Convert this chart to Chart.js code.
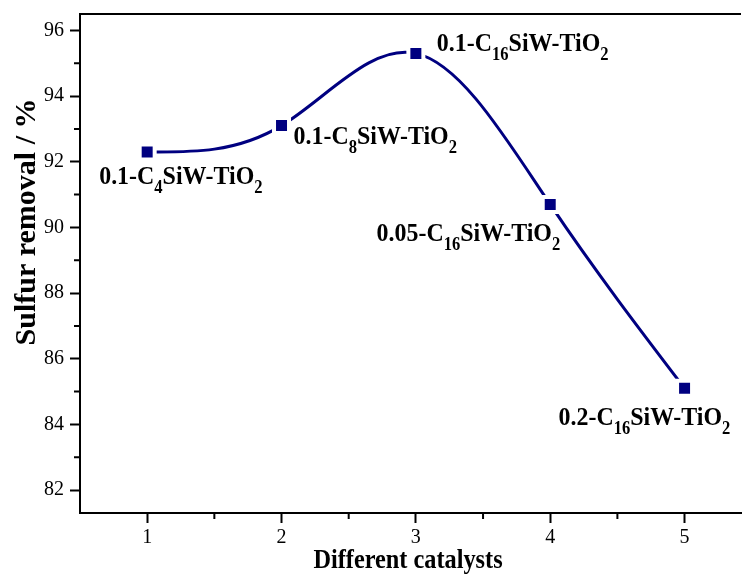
<!DOCTYPE html>
<html>
<head>
<meta charset="utf-8">
<script src="https://cdn.jsdelivr.net/npm/chart.js@4.4.1/dist/chart.umd.min.js"></script>
<style>
  html, body { margin: 0; padding: 0; background: #fff; }
</style>
</head>
<body>
<canvas id="chart" width="744" height="577"></canvas>
<script>
// Data
const catalystX = [1, 2, 3, 4, 5];
const sulfurRemoval = [92.3, 93.1, 95.3, 90.7, 85.1];
// _{...} marks a subscript
const catalystNames = [
  "0.1-C_{4}SiW-TiO_{2}",
  "0.1-C_{8}SiW-TiO_{2}",
  "0.1-C_{16}SiW-TiO_{2}",
  "0.05-C_{16}SiW-TiO_{2}",
  "0.2-C_{16}SiW-TiO_{2}"
];
const yTicks = [82, 84, 86, 88, 90, 92, 94, 96];
const yMinorTicks = [83, 85, 87, 89, 91, 93, 95];
const xTicks = [1, 2, 3, 4, 5];
const xMinorTicks = [1.5, 2.5, 3.5, 4.5];
const xTitle = "Different catalysts";
const yTitle = "Sulfur removal / %";

// where each name sits relative to its point: [dx, dy, align]
const nameOffsets = [
  [-48, 32, "left"],
  [12, 18, "left"],
  [21, -2, "left"],
  [10, 37, "right"],
  [-126, 37, "left"]
];

const NAVY = "#000080";
const SERIF = '"Liberation Serif", "Times New Roman", serif';

// Draw text with subscripts, squeezed horizontally by sx
function drawRich(ctx, text, x, y, align, mainPx, subPx, sx) {
  const parts = text.split(/_\{(.*?)\}/);
  const mainFont = `bold ${mainPx}px ${SERIF}`;
  const subFont = `bold ${subPx}px ${SERIF}`;
  let w = 0;
  parts.forEach((p, i) => {
    ctx.font = i % 2 ? subFont : mainFont;
    w += ctx.measureText(p).width;
  });
  let startX = x;
  if (align === "right") startX = x - w * sx;
  if (align === "center") startX = x - (w * sx) / 2;

  ctx.save();
  ctx.translate(startX, y);
  ctx.scale(sx, 1);
  ctx.fillStyle = "#000";
  ctx.textBaseline = "alphabetic";
  ctx.textAlign = "left";
  let cx = 0;
  parts.forEach((p, i) => {
    const isSub = i % 2 === 1;
    ctx.font = isSub ? subFont : mainFont;
    ctx.fillText(p, cx, isSub ? 9 : 0);
    cx += ctx.measureText(p).width;
  });
  ctx.restore();
}

// Slopes of a natural cubic spline through the given nodes
function naturalSlopes(xs, ys) {
  const n = xs.length;
  const h = [];
  for (let i = 0; i < n - 1; i++) h.push(xs[i + 1] - xs[i]);
  const M = new Array(n).fill(0);
  if (n > 2) {
    const a = [], b = [], c = [], d = [];
    for (let i = 1; i < n - 1; i++) {
      a.push(h[i - 1]);
      b.push(2 * (h[i - 1] + h[i]));
      c.push(h[i]);
      d.push(6 * ((ys[i + 1] - ys[i]) / h[i] - (ys[i] - ys[i - 1]) / h[i - 1]));
    }
    // Thomas algorithm
    for (let i = 1; i < b.length; i++) {
      const m = a[i] / b[i - 1];
      b[i] -= m * c[i - 1];
      d[i] -= m * d[i - 1];
    }
    const sol = new Array(b.length);
    sol[b.length - 1] = d[b.length - 1] / b[b.length - 1];
    for (let i = b.length - 2; i >= 0; i--) sol[i] = (d[i] - c[i] * sol[i + 1]) / b[i];
    sol.forEach((v, i) => { M[i + 1] = v; });
  }
  const slopes = [];
  for (let i = 0; i < n - 1; i++) {
    slopes.push((ys[i + 1] - ys[i]) / h[i] - h[i] * (2 * M[i] + M[i + 1]) / 6);
  }
  const k = n - 2;
  slopes.push((ys[k + 1] - ys[k]) / h[k] + h[k] * (M[k] + 2 * M[k + 1]) / 6);
  return slopes;
}

// Replace Chart.js bezier handles with a natural spline (like the original plot)
const naturalSpline = {
  id: "naturalSpline",
  beforeDatasetsDraw(chart) {
    const meta = chart.getDatasetMeta(0);
    const pts = meta.data;
    meta.dataset.updateControlPoints(chart.chartArea, "x");
    const slopes = naturalSlopes(pts.map(p => p.x), pts.map(p => p.y));
    pts.forEach((p, i) => {
      const hPrev = i > 0 ? (p.x - pts[i - 1].x) / 3 : 0;
      const hNext = i < pts.length - 1 ? (pts[i + 1].x - p.x) / 3 : 0;
      p.cp1x = p.x - hPrev;
      p.cp1y = p.y - slopes[i] * hPrev;
      p.cp2x = p.x + hNext;
      p.cp2y = p.y + slopes[i] * hNext;
    });
  }
};

// Frame top line, minor ticks, axis titles and point names
const annotate = {
  id: "annotate",
  afterDraw(chart) {
    const { ctx, chartArea, scales } = chart;
    ctx.save();
    ctx.strokeStyle = "#000";
    ctx.lineWidth = 2;
    ctx.beginPath();
    ctx.moveTo(chartArea.left - 1, chartArea.top);
    ctx.lineTo(chartArea.right, chartArea.top);
    yMinorTicks.forEach(v => {
      const y = scales.y.getPixelForValue(v);
      ctx.moveTo(chartArea.left, y);
      ctx.lineTo(chartArea.left - 6, y);
    });
    xMinorTicks.forEach(v => {
      const x = scales.x.getPixelForValue(v);
      ctx.moveTo(x, chartArea.bottom);
      ctx.lineTo(x, chartArea.bottom + 6);
    });
    ctx.stroke();
    ctx.restore();

    // axis titles
    drawRich(ctx, xTitle, 408, 568, "center", 27, 18, 0.9);
    ctx.save();
    ctx.translate(35, 222);
    ctx.rotate(-Math.PI / 2);
    drawRich(ctx, yTitle, 0, 0, "center", 30, 18, 1.0);
    ctx.restore();

    // names next to points
    const meta = chart.getDatasetMeta(0);
    meta.data.forEach((pt, i) => {
      const [dx, dy, align] = nameOffsets[i];
      drawRich(ctx, catalystNames[i], pt.x + dx, pt.y + dy, align, 26, 18, 0.92);
    });
  }
};

function noAutoPadding(s) {
  s.paddingLeft = 0;
  s.paddingRight = 0;
  s.paddingTop = 0;
  s.paddingBottom = 0;
}

new Chart(document.getElementById("chart"), {
  type: "line",
  data: {
    datasets: [{
      data: catalystX.map((x, i) => ({ x, y: sulfurRemoval[i] })),
      borderColor: NAVY,
      borderWidth: 3,
      cubicInterpolationMode: "monotone",
      pointStyle: "rect",
      pointRadius: 10.6,
      pointBackgroundColor: NAVY,
      pointBorderColor: "#fff",
      pointBorderWidth: 4,
      clip: false
    }]
  },
  options: {
    responsive: false,
    animation: false,
    layout: { autoPadding: false, padding: { top: 14, right: 3, left: 0, bottom: 0 } },
    plugins: {
      legend: { display: false },
      tooltip: { enabled: false }
    },
    scales: {
      x: {
        type: "linear",
        min: 0.5,
        max: 5.42,
        afterBuildTicks: s => { s.ticks = xTicks.map(value => ({ value })); },
        afterFit: s => { s.height = 64; noAutoPadding(s); },
        border: { color: "#000", width: 2 },
        grid: { drawOnChartArea: false, tickLength: 10, tickWidth: 2, tickColor: "#000" },
        ticks: {
          color: "#000",
          font: { family: SERIF, size: 20 },
          padding: 3,
          maxRotation: 0,
          autoSkip: false
        }
      },
      y: {
        min: 81.3,
        max: 96.5,
        afterBuildTicks: s => { s.ticks = yTicks.map(value => ({ value })); },
        afterFit: s => { s.width = 80; noAutoPadding(s); },
        border: { color: "#000", width: 2 },
        grid: { drawOnChartArea: false, tickLength: 10, tickWidth: 2, tickColor: "#000" },
        ticks: {
          color: "#000",
          font: { family: SERIF, size: 20 },
          padding: 6,
          autoSkip: false
        }
      }
    }
  },
  plugins: [naturalSpline, annotate]
});
</script>
</body>
</html>
